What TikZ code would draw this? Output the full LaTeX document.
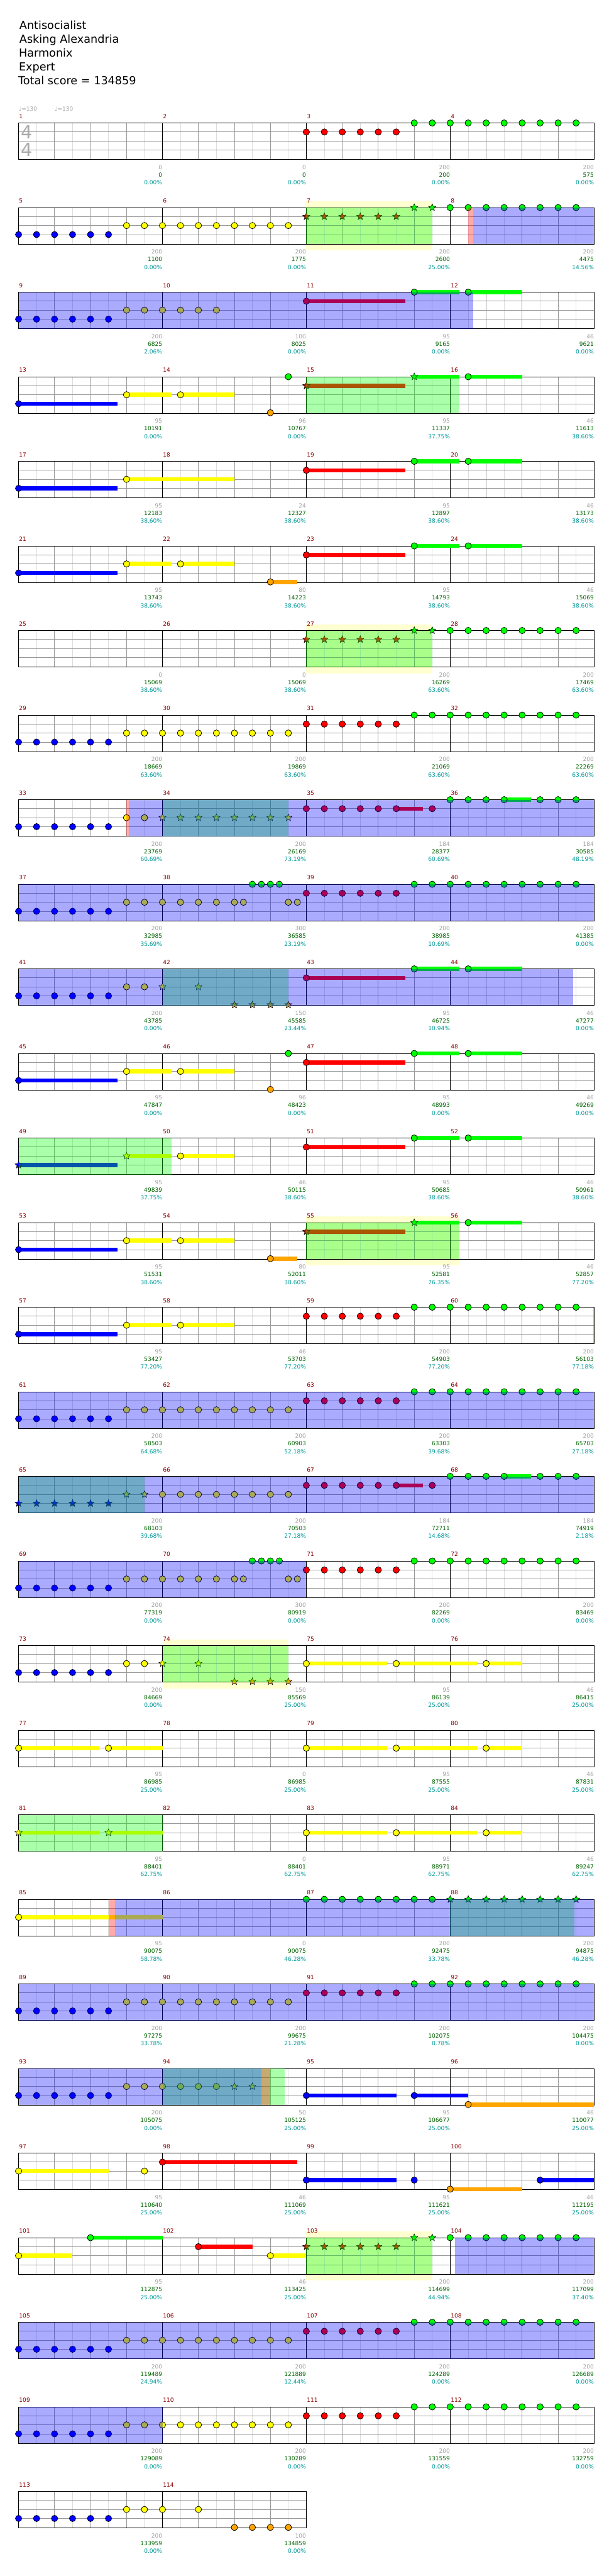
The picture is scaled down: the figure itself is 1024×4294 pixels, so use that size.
\documentclass[tikz,border=0pt]{standalone}
\usepackage{fontspec}
\setmainfont{DejaVu Sans}
\usetikzlibrary{shapes.geometric}
\definecolor{gG}{RGB}{0,255,0}
\definecolor{gR}{RGB}{255,0,0}
\definecolor{gY}{RGB}{255,255,0}
\definecolor{gB}{RGB}{0,0,255}
\definecolor{gO}{RGB}{255,165,0}
\definecolor{mnred}{RGB}{139,0,0}
\definecolor{numgray}{RGB}{160,160,160}
\definecolor{numgreen}{RGB}{0,100,0}
\definecolor{numteal}{RGB}{0,153,153}
\definecolor{gridA}{RGB}{153,153,153}
\definecolor{gridB}{RGB}{221,221,221}
\definecolor{ybox}{RGB}{255,255,208}
\definecolor{tsgray}{RGB}{170,170,170}
\newcommand\cRow[1]{\pgfmathsetmacro\RowY{205+141*(#1-1)}}
\newcommand\cGrid[1]{%
  \pgfmathtruncatemacro\cgn{8*#1}%
  \pgfmathtruncatemacro\cgm{4*#1}%
  \pgfmathsetmacro\cgw{240*#1}%
  \foreach \k in {1,...,\cgn} {\draw[gridB] ({31+30*\k},\RowY) -- ++(0,61);}
  \foreach \k in {1,2,3} {\draw[gridA] (31,{\RowY+15*\k}) -- ++(\cgw,0);}
  \foreach \k in {1,...,\cgm} {\draw[gridA] ({31+60*\k},\RowY) -- ++(0,61);}
  \foreach \k in {1,...,#1} {\draw[black] ({31+240*\k},\RowY) -- ++(0,61);}
  \draw[black] (31,\RowY) rectangle ++(\cgw,61);}
\newcommand\cNote[3]{\filldraw[fill=#3,draw=black,line width=0.8pt] ({31+15*(#1)},{\RowY+15*(#2)}) circle[radius=5.3];}
\newcommand\cStar[3]{\node[starnote,fill=#3] at ({31+15*(#1)},{\RowY+15*(#2)}) {};}
\newcommand\cNotes[3]{\foreach \s in {#1} {\cNote{\s}{#2}{#3}}}
\newcommand\cStars[3]{\foreach \s in {#1} {\cStar{\s}{#2}{#3}}}
\newcommand\cBar[4]{\fill[#4] ({31+15*(#1)},{\RowY+15*(#2)-3.4}) rectangle ({31+15*(#3)},{\RowY+15*(#2)+3.4});}
\newcommand\cSus[4]{\cBar{#1}{#2}{#3}{#4}\cNote{#1}{#2}{#4}}
\newcommand\cSusS[4]{\cBar{#1}{#2}{#3}{#4}\cStar{#1}{#2}{#4}}
\newcommand\cGz[2]{\fill[gG,opacity=0.333] ({31+15*(#1)},\RowY) rectangle ({31+15*(#2)},{\RowY+61});}
\newcommand\cBz[2]{\fill[gB,opacity=0.333] ({31+15*(#1)},\RowY) rectangle ({31+15*(#2)},{\RowY+61});}
\newcommand\cRz[2]{\fill[gR,opacity=0.333] ({31+15*(#1)},\RowY) rectangle ({31+15*(#2)},{\RowY+61});}
\newcommand\cYz[2]{\fill[ybox] ({31+15*(#1)},{\RowY-10.5}) rectangle ({31+15*(#2)},{\RowY+71.5});}
\newcommand\cMeas[4]{%
  \pgfmathtruncatemacro\cmr{(#1-1)/4}%
  \pgfmathtruncatemacro\cmc{#1-1-4*\cmr}%
  \pgfmathsetmacro\cmx{271+240*\cmc}%
  \pgfmathsetmacro\cmy{205+141*\cmr}%
  \node[snum,text=numgray] (sg#1) at (\cmx,{\cmy+77}) {#2};
  \node[snum,text=numgreen] (ss#1) at (\cmx,{\cmy+90}) {#3};
  \node[snum,text=numteal] (sp#1) at (\cmx,{\cmy+103}) {#4\%};}
\begin{document}
\begin{tikzpicture}[x=1pt,y=-1pt,line width=0.9pt,
  ttl/.style={anchor=base west,inner sep=0,font=\fontsize{18.5}{22}\selectfont},
  snum/.style={anchor=base east,inner sep=0,font=\fontsize{9.5}{11}\selectfont},
  mnum/.style={anchor=base west,inner sep=0,text=mnred,font=\fontsize{9.5}{11}\selectfont},
  tempo/.style={anchor=base west,inner sep=0,text=tsgray,font=\fontsize{9.5}{11}\selectfont},
  tsig/.style={inner sep=0,text=tsgray,font=\fontsize{30}{30}\selectfont},
  starnote/.style={star,star points=5,star point ratio=2.3,minimum size=12.5,inner sep=0,draw=black,line width=0.6pt}]
\useasboundingbox (0,0) rectangle (1024,4294);
\fill[white] (0,0) rectangle (1024,4294);
% header
\node[ttl] (title) at (32,49) {Antisocialist};
\node[ttl] (artist) at (32,72) {Asking Alexandria};
\node[ttl] (author) at (31,95) {Harmonix};
\node[ttl] (level) at (31,118) {Expert};
\node[ttl] (total) at (30,141.5) {Total score = 134859};
\node[tempo] (tempo1) at (31,185) {♩=130};
\node[tempo] (tempo2) at (91,185) {♩=130};
% row 1
\cRow{1}\cGrid{4}
\node[tsig] (ts1) at (44.5,220) {4};
\node[tsig] (ts2) at (44.5,250) {4};
\cNotes{32,34,...,42}{1}{gR}\cNotes{44,46,...,62}{0}{gG}
% row 2
\cRow{2}\cYz{32}{46}\cGrid{4}
\cNotes{0,2,...,10}{3}{gB}\cNotes{12,14,...,30}{2}{gY}
\cStars{32,34,...,42}{1}{gR}\cStars{44,46}{0}{gG}\cNotes{48,50,...,62}{0}{gG}
\cGz{32}{46}\cRz{50.02}{50.58}\cBz{50.58}{64}
% row 3
\cRow{3}\cGrid{4}
\cNotes{0,2,...,10}{3}{gB}\cNotes{12,14,...,22}{2}{gY}
\cSus{32}{1}{43}{gR}\cSus{44}{0}{49}{gG}\cSus{50}{0}{56}{gG}
\cBz{0}{50.58}
% row 4
\cRow{4}\cGrid{4}
\cSus{0}{3}{11}{gB}\cSus{12}{2}{17}{gY}\cSus{18}{2}{24}{gY}\cNote{28}{4}{gO}\cNote{30}{0}{gG}
\cSusS{32}{1}{43}{gR}\cSusS{44}{0}{49}{gG}\cSus{50}{0}{56}{gG}
\cGz{32}{49}
% row 5
\cRow{5}\cGrid{4}
\cSus{0}{3}{11}{gB}\cSus{12}{2}{24}{gY}\cSus{32}{1}{43}{gR}\cSus{44}{0}{49}{gG}\cSus{50}{0}{56}{gG}
% row 6
\cRow{6}\cGrid{4}
\cSus{0}{3}{11}{gB}\cSus{12}{2}{17}{gY}\cSus{18}{2}{24}{gY}\cSus{28}{4}{31}{gO}
\cSus{32}{1}{43}{gR}\cSus{44}{0}{49}{gG}\cSus{50}{0}{56}{gG}
% row 7
\cRow{7}\cYz{32}{46}\cGrid{4}
\cStars{32,34,...,42}{1}{gR}\cStars{44,46}{0}{gG}\cNotes{48,50,...,62}{0}{gG}\cGz{32}{46}
% row 8
\cRow{8}\cGrid{4}
\cNotes{0,2,...,10}{3}{gB}\cNotes{12,14,...,30}{2}{gY}\cNotes{32,34,...,42}{1}{gR}\cNotes{44,46,...,62}{0}{gG}
% row 9
\cRow{9}\cGrid{4}
\cNotes{0,2,...,10}{3}{gB}\cNotes{12,14}{2}{gY}\cStars{16,18,...,30}{2}{gY}
\cNotes{32,34,...,40}{1}{gR}\cSus{42}{1}{45}{gR}\cNote{46}{1}{gR}
\cNotes{48,50,52}{0}{gG}\cSus{54}{0}{57}{gG}\cNotes{58,60,62}{0}{gG}
\cGz{16}{30}\cRz{12}{12.26}\cBz{12.26}{64}
% row 10
\cRow{10}\cGrid{4}
\cNotes{0,2,...,10}{3}{gB}\cNotes{12,14,16,18,20,22,24,25,30,31}{2}{gY}\cNotes{26,27,28,29}{0}{gG}
\cNotes{32,34,...,42}{1}{gR}\cNotes{44,46,...,62}{0}{gG}
\cBz{0}{64}
% row 11
\cRow{11}\cGrid{4}
\cNotes{0,2,...,10}{3}{gB}\cNotes{12,14}{2}{gY}\cStars{16,20}{2}{gY}\cStars{24,26,28,30}{4}{gO}
\cSus{32}{1}{43}{gR}\cSus{44}{0}{49}{gG}\cSus{50}{0}{56}{gG}
\cGz{16}{30}\cBz{0}{61.64}
% row 12
\cRow{12}\cGrid{4}
\cSus{0}{3}{11}{gB}\cSus{12}{2}{17}{gY}\cSus{18}{2}{24}{gY}\cNote{28}{4}{gO}\cNote{30}{0}{gG}
\cSus{32}{1}{43}{gR}\cSus{44}{0}{49}{gG}\cSus{50}{0}{56}{gG}
% row 13
\cRow{13}\cGrid{4}
\cSusS{0}{3}{11}{gB}\cSusS{12}{2}{17}{gY}\cSus{18}{2}{24}{gY}
\cSus{32}{1}{43}{gR}\cSus{44}{0}{49}{gG}\cSus{50}{0}{56}{gG}
\cGz{0}{17}
% row 14
\cRow{14}\cYz{32}{49}\cGrid{4}
\cSus{0}{3}{11}{gB}\cSus{12}{2}{17}{gY}\cSus{18}{2}{24}{gY}\cSus{28}{4}{31}{gO}
\cSusS{32}{1}{43}{gR}\cSusS{44}{0}{49}{gG}\cSus{50}{0}{56}{gG}
\cGz{32}{49}
% row 15
\cRow{15}\cGrid{4}
\cSus{0}{3}{11}{gB}\cSus{12}{2}{17}{gY}\cSus{18}{2}{24}{gY}
\cNotes{32,34,...,42}{1}{gR}\cNotes{44,46,...,62}{0}{gG}\cBz{63.9}{64}
% row 16
\cRow{16}\cGrid{4}
\cNotes{0,2,...,10}{3}{gB}\cNotes{12,14,...,30}{2}{gY}\cNotes{32,34,...,42}{1}{gR}\cNotes{44,46,...,62}{0}{gG}\cBz{0}{64}
% row 17
\cRow{17}\cGrid{4}
\cStars{0,2,...,10}{3}{gB}\cStars{12,14}{2}{gY}\cNotes{16,18,...,30}{2}{gY}
\cNotes{32,34,...,40}{1}{gR}\cSus{42}{1}{45}{gR}\cNote{46}{1}{gR}
\cNotes{48,50,52}{0}{gG}\cSus{54}{0}{57}{gG}\cNotes{58,60,62}{0}{gG}
\cGz{0}{14}\cBz{0}{64}
% row 18
\cRow{18}\cGrid{4}
\cNotes{0,2,...,10}{3}{gB}\cNotes{12,14,16,18,20,22,24,25,30,31}{2}{gY}\cNotes{26,27,28,29}{0}{gG}
\cNotes{32,34,...,42}{1}{gR}\cNotes{44,46,...,62}{0}{gG}\cBz{0}{32}
% row 19
\cRow{19}\cYz{16}{30}\cGrid{4}
\cNotes{0,2,...,10}{3}{gB}\cNotes{12,14}{2}{gY}\cStars{16,20}{2}{gY}\cStars{24,26,28,30}{4}{gO}
\cSus{32}{2}{41}{gY}\cSus{42}{2}{51}{gY}\cSus{52}{2}{56}{gY}\cGz{16}{30}
% row 20
\cRow{20}\cGrid{4}
\cSus{0}{2}{9}{gY}\cSus{10}{2}{16}{gY}\cSus{32}{2}{41}{gY}\cSus{42}{2}{51}{gY}\cSus{52}{2}{56}{gY}
% row 21
\cRow{21}\cGrid{4}
\cSusS{0}{2}{9}{gY}\cSusS{10}{2}{16}{gY}\cSus{32}{2}{41}{gY}\cSus{42}{2}{51}{gY}\cSus{52}{2}{56}{gY}\cGz{0}{16}
% row 22
\cRow{22}\cGrid{4}
\cSus{0}{2}{16}{gY}\cNotes{32,34,...,46}{0}{gG}\cStars{48,50,...,62}{0}{gG}
\cGz{48}{61.8}\cRz{10}{10.7}\cBz{10.7}{64}
% row 23
\cRow{23}\cGrid{4}
\cNotes{0,2,...,10}{3}{gB}\cNotes{12,14,...,30}{2}{gY}\cNotes{32,34,...,42}{1}{gR}\cNotes{44,46,...,62}{0}{gG}\cBz{0}{64}
% row 24
\cRow{24}\cGrid{4}
\cNotes{0,2,...,10}{3}{gB}\cNotes{12,14,...,22}{2}{gY}\cStars{24,26}{2}{gY}
\cSus{32}{3}{42}{gB}\cSus{44}{3}{50}{gB}\cSus{50}{4}{64}{gO}
\cGz{16}{29.6}\cBz{0}{27}\cRz{27}{28}
% row 25
\cRow{25}\cGrid{4}
\cSus{0}{2}{10}{gY}\cNote{14}{2}{gY}\cSus{16}{1}{31}{gR}
\cSus{32}{3}{42}{gB}\cNote{44}{3}{gB}\cSus{48}{4}{56}{gO}\cSus{58}{3}{64}{gB}
% row 26
\cRow{26}\cYz{32}{46}\cGrid{4}
\cSus{0}{2}{6}{gY}\cSus{8}{0}{16}{gG}\cSus{20}{1}{26}{gR}\cSus{28}{2}{32}{gY}
\cStars{32,34,...,42}{1}{gR}\cStars{44,46}{0}{gG}\cNotes{48,50,...,62}{0}{gG}
\cGz{32}{46}\cBz{48.5}{64}
% row 27
\cRow{27}\cGrid{4}
\cNotes{0,2,...,10}{3}{gB}\cNotes{12,14,...,30}{2}{gY}\cNotes{32,34,...,42}{1}{gR}\cNotes{44,46,...,62}{0}{gG}\cBz{0}{64}
% row 28
\cRow{28}\cGrid{4}
\cNotes{0,2,...,10}{3}{gB}\cNotes{12,14,...,30}{2}{gY}\cNotes{32,34,...,42}{1}{gR}\cNotes{44,46,...,62}{0}{gG}\cBz{0}{16}
% row 29
\cRow{29}\cGrid{2}
\cNotes{0,2,...,10}{3}{gB}\cNotes{12,14,16,20}{2}{gY}\cNotes{24,26,28,30}{4}{gO}
% measure numbers
\foreach \m in {1,...,114} {
  \pgfmathtruncatemacro\mr{(\m-1)/4}
  \pgfmathtruncatemacro\mc{\m-1-4*\mr}
  \node[mnum] (mn\m) at ({31.5+240*\mc},{197.5+141*\mr}) {\m};
}
% score texts
\foreach \m/\g/\s/\p in {1/0/0/0.00,2/0/0/0.00,3/200/200/0.00,4/200/575/0.00,
 5/200/1100/0.00,6/200/1775/0.00,7/200/2600/25.00,8/200/4475/14.56,
 9/200/6825/2.06,10/100/8025/0.00,11/95/9165/0.00,12/46/9621/0.00,
 13/95/10191/0.00,14/96/10767/0.00,15/95/11337/37.75,16/46/11613/38.60,
 17/95/12183/38.60,18/24/12327/38.60,19/95/12897/38.60,20/46/13173/38.60,
 21/95/13743/38.60,22/80/14223/38.60,23/95/14793/38.60,24/46/15069/38.60,
 25/0/15069/38.60,26/0/15069/38.60,27/200/16269/63.60,28/200/17469/63.60,
 29/200/18669/63.60,30/200/19869/63.60,31/200/21069/63.60,32/200/22269/63.60,
 33/200/23769/60.69,34/200/26169/73.19,35/184/28377/60.69,36/184/30585/48.19,
 37/200/32985/35.69,38/300/36585/23.19,39/200/38985/10.69,40/200/41385/0.00,
 41/200/43785/0.00,42/150/45585/23.44,43/95/46725/10.94,44/46/47277/0.00,
 45/95/47847/0.00,46/96/48423/0.00,47/95/48993/0.00,48/46/49269/0.00,
 49/95/49839/37.75,50/46/50115/38.60,51/95/50685/38.60,52/46/50961/38.60,
 53/95/51531/38.60,54/80/52011/38.60,55/95/52581/76.35,56/46/52857/77.20,
 57/95/53427/77.20,58/46/53703/77.20,59/200/54903/77.20,60/200/56103/77.18,
 61/200/58503/64.68,62/200/60903/52.18,63/200/63303/39.68,64/200/65703/27.18,
 65/200/68103/39.68,66/200/70503/27.18,67/184/72711/14.68,68/184/74919/2.18,
 69/200/77319/0.00,70/300/80919/0.00,71/200/82269/0.00,72/200/83469/0.00,
 73/200/84669/0.00,74/150/85569/25.00,75/95/86139/25.00,76/46/86415/25.00,
 77/95/86985/25.00,78/0/86985/25.00,79/95/87555/25.00,80/46/87831/25.00,
 81/95/88401/62.75,82/0/88401/62.75,83/95/88971/62.75,84/46/89247/62.75,
 85/95/90075/58.78,86/0/90075/46.28,87/200/92475/33.78,88/200/94875/46.28,
 89/200/97275/33.78,90/200/99675/21.28,91/200/102075/8.78,92/200/104475/0.00,
 93/200/105075/0.00,94/50/105125/25.00,95/95/106677/25.00,96/46/110077/25.00,
 97/95/110640/25.00,98/46/111069/25.00,99/95/111621/25.00,100/46/112195/25.00,
 101/95/112875/25.00,102/46/113425/25.00,103/200/114699/44.94,104/200/117099/37.40,
 105/200/119489/24.94,106/200/121889/12.44,107/200/124289/0.00,108/200/126689/0.00,
 109/200/129089/0.00,110/200/130289/0.00,111/200/131559/0.00,112/200/132759/0.00,
 113/200/133959/0.00,114/100/134859/0.00}
 {\cMeas{\m}{\g}{\s}{\p}}
\end{tikzpicture}
\end{document}
